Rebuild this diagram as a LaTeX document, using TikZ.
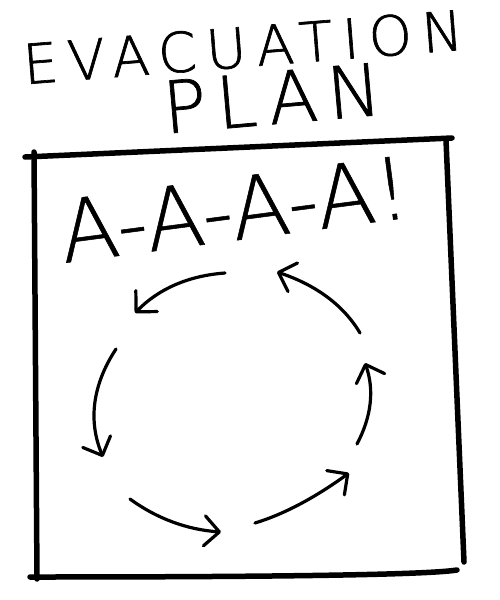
\documentclass[tikz,border=0pt]{standalone}
\usepackage{fontspec}
\newfontfamily\hand{DejaVu Sans ExtraLight}
\usetikzlibrary{arrows.meta,calc}
\begin{document}
\begin{tikzpicture}[x=1pt,y=-1pt,
  boxline/.style={line width=5.5pt,line cap=round},
  flow/.style={line width=3.2pt,line cap=round,
    -{Straight Barb[length=15pt,width=30pt,line cap=round,line join=round]}},
  lettering/.style={inner sep=0pt,text=black}]
\useasboundingbox[fill=white] (0,0) rectangle (500,600);
% titles
\node[lettering,rotate=4.5,font={\hand\fontsize{55}{55}\selectfont\addfontfeature{LetterSpace=18,FakeBold=1.2}}] (title) at (243,47) {EVACUATION};
\node[lettering,rotate=5,font={\hand\fontsize{72}{72}\selectfont\addfontfeature{LetterSpace=14,FakeBold=1}}] (plan) at (272,98) {PLAN};
% box
\coordinate (tl) at (25,157);
\coordinate (tr) at (452,138);
\coordinate (ltop) at (34,152);
\coordinate (lbot) at (37,579);
\coordinate (rtop) at (446,140);
\coordinate (rbot) at (464,562);
\coordinate (bl) at (30,577);
\coordinate (br) at (457,570);
\draw[boxline] (tl) -- (tr);
\draw[boxline] (ltop) -- (lbot);
\draw[boxline] (rtop) -- (rbot);
\draw[boxline] (bl) .. controls (200,577) and (420,576) .. (br);
% scream
\node[lettering,rotate=7.5,font={\hand\fontsize{86}{86}\selectfont\addfontfeature{LetterSpace=0,FakeBold=0.6}}] (scream) at (234,209) {A-A-A-A!};
% arrows
\coordinate (a1) at (225,273); \coordinate (q1) at (170,277); \coordinate (b1) at (135,313);
\coordinate (a2) at (116,349); \coordinate (q2) at (80.5,403); \coordinate (b2) at (103,457);
\coordinate (a3) at (130,499); \coordinate (q3) at (170.5,528.5); \coordinate (b3) at (221,532);
\coordinate (a4) at (255,523); \coordinate (q4) at (298,510); \coordinate (b4) at (349,473);
\coordinate (a5) at (357,444); \coordinate (q5) at (379,402.5); \coordinate (b5) at (365,363);
\coordinate (a6) at (360,333); \coordinate (q6) at (335.5,291.5); \coordinate (b6) at (277,272);
\foreach \i in {1,...,6}{
  \draw[flow] (a\i) .. controls ($(a\i)!2/3!(q\i)$) and ($(b\i)!2/3!(q\i)$) .. (b\i);
}
\end{tikzpicture}
\end{document}
